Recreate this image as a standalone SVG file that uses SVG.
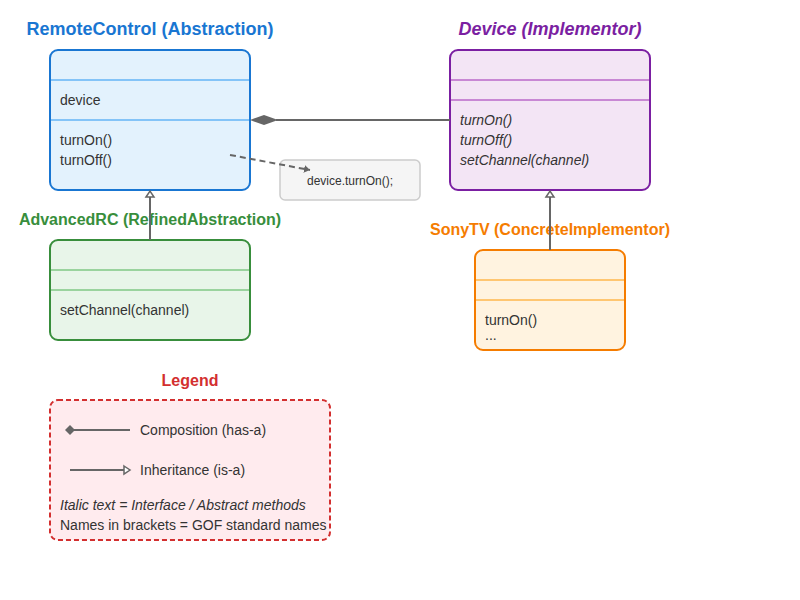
<svg xmlns="http://www.w3.org/2000/svg" width="800" height="600" viewBox="0 0 800 600">
<style>
text{font-family:"Liberation Sans",Arial,sans-serif;font-size:14px;fill:#333}
.title{font-size:18px;font-weight:bold;text-anchor:middle}
.sub{font-size:16px;font-weight:bold;text-anchor:middle}
.it{font-style:italic}
.conn{stroke:#666;stroke-width:2;fill:none}
</style>
<defs>
<marker id="tri" markerWidth="12" markerHeight="12" refX="9" refY="6" orient="auto" markerUnits="userSpaceOnUse">
<path d="M3,2 L9,6 L3,10 Z" fill="#fff" stroke="#666" stroke-width="1.5"/>
</marker>
<marker id="arr" markerWidth="8" markerHeight="10" refX="6" refY="5" orient="auto" markerUnits="userSpaceOnUse">
<path d="M0,1 L6,5 L0,9 Z" fill="#666"/>
</marker>
</defs>

<g id="remotecontrol">
<text class="title" x="150" y="35" style="fill:#1976d2">RemoteControl (Abstraction)</text>
<rect x="50" y="50" width="200" height="140" rx="8" fill="#e3f2fd" stroke="#1976d2" stroke-width="2"/>
<line x1="51" y1="80" x2="249" y2="80" stroke="#64b5f6" stroke-width="1.5"/>
<line x1="51" y1="120" x2="249" y2="120" stroke="#64b5f6" stroke-width="1.5"/>
<text x="60" y="105">device</text>
<text x="60" y="145">turnOn()</text>
<text x="60" y="165">turnOff()</text>
</g>

<g id="device">
<text class="title it" x="550" y="35" style="fill:#7b1fa2">Device (Implementor)</text>
<rect x="450" y="50" width="200" height="140" rx="8" fill="#f3e5f5" stroke="#7b1fa2" stroke-width="2"/>
<line x1="451" y1="80" x2="649" y2="80" stroke="#ba68c8" stroke-width="1.5"/>
<line x1="451" y1="100" x2="649" y2="100" stroke="#ba68c8" stroke-width="1.5"/>
<text class="it" x="460" y="125">turnOn()</text>
<text class="it" x="460" y="145">turnOff()</text>
<text class="it" x="460" y="165">setChannel(channel)</text>
</g>

<g id="advancedrc">
<text class="sub" x="150" y="225" style="fill:#388e3c">AdvancedRC (RefinedAbstraction)</text>
<rect x="50" y="240" width="200" height="100" rx="8" fill="#e8f5e9" stroke="#388e3c" stroke-width="2"/>
<line x1="51" y1="270" x2="249" y2="270" stroke="#81c784" stroke-width="1.5"/>
<line x1="51" y1="290" x2="249" y2="290" stroke="#81c784" stroke-width="1.5"/>
<text x="60" y="315">setChannel(channel)</text>
</g>

<g id="sonytv">
<text class="sub" x="550" y="235" style="fill:#f57c00">SonyTV (ConcreteImplementor)</text>
<rect x="475" y="250" width="150" height="100" rx="8" fill="#fff3e0" stroke="#f57c00" stroke-width="2"/>
<line x1="476" y1="280" x2="624" y2="280" stroke="#ffb74d" stroke-width="1.5"/>
<line x1="476" y1="300" x2="624" y2="300" stroke="#ffb74d" stroke-width="1.5"/>
<text x="485" y="325">turnOn()</text>
<text x="485" y="340">...</text>
</g>

<g id="note">
<rect x="280" y="160" width="140" height="40" rx="5" fill="#f5f5f5" stroke="#ccc" stroke-width="1.5"/>
<text x="350" y="185" style="font-size:12px;text-anchor:middle">device.turnOn();</text>
</g>

<g id="connectors">
<line class="conn" x1="450" y1="120" x2="276" y2="120"/>
<path d="M250,120 L264,115 L278,120 L264,125 Z" fill="#666"/>
<line class="conn" x1="230" y1="155" x2="310" y2="170" stroke-dasharray="6,4" marker-end="url(#arr)"/>
<line class="conn" x1="150" y1="240" x2="150" y2="191" marker-end="url(#tri)"/>
<line class="conn" x1="550" y1="250" x2="550" y2="191" marker-end="url(#tri)"/>
</g>

<g id="legend">
<text class="sub" x="190" y="386" style="fill:#d32f2f">Legend</text>
<rect x="50" y="400" width="280" height="140" rx="8" fill="#ffebee" stroke="#d32f2f" stroke-width="2" stroke-dasharray="5,3"/>
<line class="conn" x1="72" y1="430" x2="130" y2="430"/>
<path d="M65,430 L70,425 L75,430 L70,435 Z" fill="#666"/>
<text x="140" y="435">Composition (has-a)</text>
<line class="conn" x1="70" y1="470" x2="130" y2="470" marker-end="url(#tri)"/>
<text x="140" y="475">Inheritance (is-a)</text>
<text class="it" x="60" y="510">Italic text = Interface / Abstract methods</text>
<text x="60" y="530">Names in brackets = GOF standard names</text>
</g>
</svg>
